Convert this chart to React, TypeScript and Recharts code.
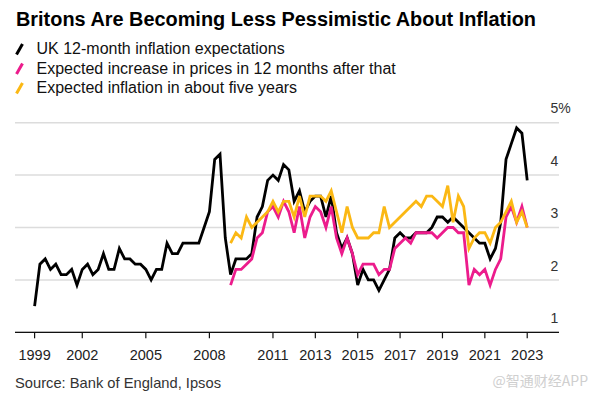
import React from "react";
import { LineChart, Line, XAxis, YAxis, CartesianGrid } from "recharts";

const FONT = "'Liberation Sans', Arial, Helvetica, sans-serif";

// Survey dates (quarterly, Nov 1999 - Feb 2023)
const quarters = [
  "1999-11",
  "2000-02", "2000-05", "2000-08", "2000-11",
  "2001-02", "2001-05", "2001-08", "2001-11",
  "2002-02", "2002-05", "2002-08", "2002-11",
  "2003-02", "2003-05", "2003-08", "2003-11",
  "2004-02", "2004-05", "2004-08", "2004-11",
  "2005-02", "2005-05", "2005-08", "2005-11",
  "2006-02", "2006-05", "2006-08", "2006-11",
  "2007-02", "2007-05", "2007-08", "2007-11",
  "2008-02", "2008-05", "2008-08", "2008-11",
  "2009-02", "2009-05", "2009-08", "2009-11",
  "2010-02", "2010-05", "2010-08", "2010-11",
  "2011-02", "2011-05", "2011-08", "2011-11",
  "2012-02", "2012-05", "2012-08", "2012-11",
  "2013-02", "2013-05", "2013-08", "2013-11",
  "2014-02", "2014-05", "2014-08", "2014-11",
  "2015-02", "2015-05", "2015-08", "2015-11",
  "2016-02", "2016-05", "2016-08", "2016-11",
  "2017-02", "2017-05", "2017-08", "2017-11",
  "2018-02", "2018-05", "2018-08", "2018-11",
  "2019-02", "2019-05", "2019-08", "2019-11",
  "2020-02", "2020-05", "2020-08", "2020-11",
  "2021-02", "2021-05", "2021-08", "2021-11",
  "2022-02", "2022-05", "2022-08", "2022-11",
  "2023-02",
];

// UK 12-month inflation expectations (from Nov 1999)
const ukTwelveMonth = [
  1.5,
  2.3, 2.4, 2.2, 2.3,
  2.1, 2.1, 2.2, 1.9,
  2.2, 2.3, 2.1, 2.2,
  2.5, 2.2, 2.2, 2.6,
  2.4, 2.4, 2.3, 2.3,
  2.2, 2.0, 2.2, 2.2,
  2.7, 2.5, 2.5, 2.7,
  2.7, 2.7, 2.7, 3.0,
  3.3, 4.3, 4.4, 2.8,
  2.1, 2.4, 2.4, 2.4,
  2.5, 3.2, 3.4, 3.9,
  4.0, 3.9, 4.2, 4.1,
  3.5, 3.7, 3.3, 3.5,
  3.6, 3.6, 3.2, 3.6,
  2.9, 2.6, 2.8, 2.5,
  1.9, 2.2, 2.0, 2.0,
  1.8, 2.0, 2.2, 2.8,
  2.9, 2.8, 2.8, 2.9,
  2.9, 2.9, 3.0, 3.2,
  3.2, 3.1, 3.2, 3.1,
  3.0, 2.9, 2.8, 2.7,
  2.7, 2.4, 2.6, 3.1,
  4.3, 4.6, 4.9, 4.8,
  3.9,
];

// The two longer-horizon series start in Feb 2009
const longSeriesStart = "2009-02";

// Expected increase in prices in 12 months after that
const nextTwelveMonths = [
  1.9, 2.2, 2.2, 2.3,
  2.4, 2.8, 2.9, 3.3,
  3.4, 3.2, 3.5, 3.3,
  2.9, 3.4, 2.8, 3.2,
  3.4, 3.3, 3.0, 3.4,
  2.8, 2.5, 2.8, 2.5,
  2.1, 2.3, 2.3, 2.3,
  2.1, 2.2, 2.2, 2.6,
  2.7, 2.8, 2.7, 2.9,
  2.9, 2.9, 2.9, 2.8,
  2.9, 3.0, 3.0, 2.9,
  2.9, 1.9, 2.2, 2.1,
  2.2, 1.9, 2.2, 2.4,
  3.2, 3.4, 3.1, 3.4,
  3.0,
];

// Expected inflation in about five years
const fiveYears = [
  2.7, 2.9, 2.8, 3.2,
  3.0, 3.1, 3.2, 3.3,
  3.5, 3.3, 3.5, 3.5,
  3.2, 3.6, 3.2, 3.6,
  3.6, 3.6, 3.5, 3.7,
  3.3, 2.9, 3.4, 3.0,
  2.8, 2.8, 2.8, 2.9,
  2.9, 3.4, 3.0, 3.1,
  3.2, 3.3, 3.4, 3.5,
  3.4, 3.6, 3.6, 3.5,
  3.4, 3.8, 3.1, 3.6,
  3.4, 2.6, 2.8, 2.9,
  2.9, 2.7, 3.0, 3.1,
  3.3, 3.5, 3.1, 3.3,
  3.0,
];

const tickDates = [
  "1999-11", "2002-02", "2005-02", "2008-02", "2011-02", "2013-02",
  "2015-02", "2017-02", "2019-02", "2021-02", "2023-02",
];
const yTicks = [1, 2, 3, 4, 5];

const seriesNames = [
  "UK 12-month inflation expectations",
  "Expected increase in prices in 12 months after that",
  "Expected inflation in about five years",
];
const seriesColors = ["#000000", "#ec1c8c", "#fbb814"];

const startIdx = quarters.indexOf(longSeriesStart);
const data = quarters.map((q, i) => ({
  i,
  q,
  uk: ukTwelveMonth[i],
  next: i >= startIdx ? nextTwelveMonths[i - startIdx] : null,
  five: i >= startIdx ? fiveYears[i - startIdx] : null,
}));
const xTicks = tickDates.map((d) => quarters.indexOf(d));

const YTick = (props: any) => {
  const { y, payload } = props;
  const v = payload.value;
  return (
    <text
      x={550.5}
      y={y - 14.3}
      dy="0.36em"
      fontSize={14}
      fill="#333"
      fontFamily={FONT}
      textAnchor="start"
    >
      {v === 5 ? "5%" : String(v)}
    </text>
  );
};

export default function App() {
  return (
    <div
      style={{
        position: "absolute",
        left: 0,
        top: 0,
        width: 595,
        height: 398,
        background: "#fff",
        overflow: "hidden",
      }}
    >
      <LineChart
        width={595}
        height={398}
        data={data}
        margin={{ top: 122.7, right: 0, bottom: 35.7, left: 15 }}
      >
        <CartesianGrid vertical={false} stroke="#dcdcdc" strokeWidth={1.5} />
        <XAxis
          dataKey="i"
          type="number"
          domain={[-3.7, 99]}
          allowDataOverflow
          ticks={xTicks}
          interval={0}
          tickFormatter={(v: number) => quarters[v].slice(0, 4)}
          height={30}
          axisLine={{ stroke: "#111", strokeWidth: 1.3 }}
          tickLine={{ stroke: "#111", strokeWidth: 1.2 }}
          tickSize={6}
          tickMargin={11}
          tick={{ fill: "#222", fontSize: 14.5, fontFamily: FONT }}
        />
        <YAxis
          orientation="right"
          width={36}
          domain={[1, 5]}
          ticks={yTicks}
          axisLine={false}
          tickLine={false}
          tick={<YTick />}
        />
        <Line
          dataKey="uk"
          stroke={seriesColors[0]}
          strokeWidth={2.8}
          dot={false}
          isAnimationActive={false}
          strokeLinejoin="miter"
        />
        <Line
          dataKey="next"
          stroke={seriesColors[1]}
          strokeWidth={2.8}
          dot={false}
          isAnimationActive={false}
          strokeLinejoin="miter"
        />
        <Line
          dataKey="five"
          stroke={seriesColors[2]}
          strokeWidth={2.8}
          dot={false}
          isAnimationActive={false}
          strokeLinejoin="miter"
        />
      </LineChart>
      <svg
        width={595}
        height={398}
        style={{ position: "absolute", left: 0, top: 0, pointerEvents: "none" }}
      >
        <text
          x={16}
          y={26}
          fontSize={20}
          fontWeight="bold"
          fill="#000"
          fontFamily={FONT}
          textLength={520}
          lengthAdjust="spacingAndGlyphs"
        >
          Britons Are Becoming Less Pessimistic About Inflation
        </text>
        {seriesNames.map((name, k) => (
          <g key={name}>
            <line
              x1={16.5}
              y1={54.5 + k * 19.5}
              x2={22.5}
              y2={44 + k * 19.5}
              stroke={seriesColors[k]}
              strokeWidth={3}
            />
            <text
              x={36.5}
              y={54.3 + k * 19.5}
              fontSize={16}
              fill="#111"
              fontFamily={FONT}
            >
              {name}
            </text>
          </g>
        ))}
        <text
          x={15}
          y={387.5}
          fontSize={14.5}
          fill="#333"
          fontFamily={FONT}
          textLength={206}
          lengthAdjust="spacingAndGlyphs"
        >
          Source: Bank of England, Ipsos
        </text>
        <text
          x={588}
          y={386}
          fontSize={14}
          fill="#cfcfcf"
          textAnchor="end"
          fontFamily="'Noto Sans CJK SC', sans-serif"
        >
          @智通财经APP
        </text>
      </svg>
    </div>
  );
}
